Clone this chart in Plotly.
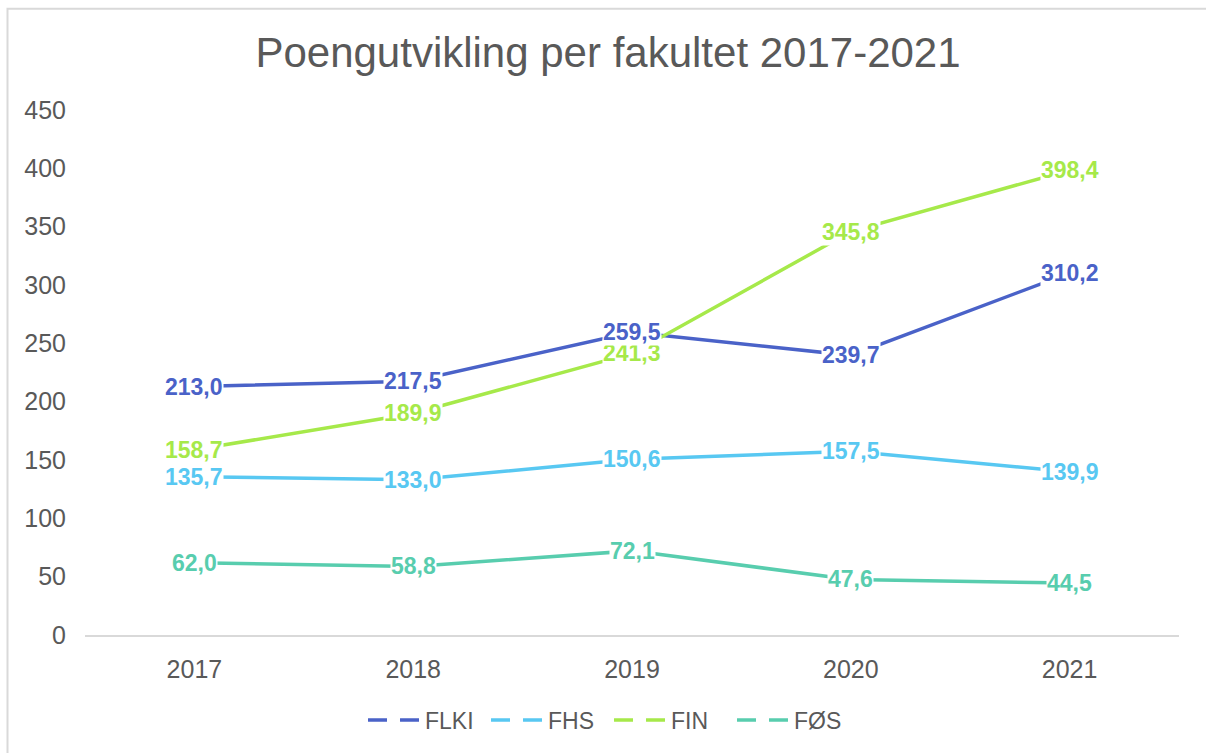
import plotly.graph_objects as go

years = ["2017", "2018", "2019", "2020", "2021"]
flki = [213.0, 217.5, 259.5, 239.7, 310.2]
fhs = [135.7, 133.0, 150.6, 157.5, 139.9]
fin = [158.7, 189.9, 241.3, 345.8, 398.4]
fos = [62.0, 58.8, 72.1, 47.6, 44.5]

series_names = ["FLKI", "FHS", "FIN", "FØS"]
series_values = [flki, fhs, fin, fos]
colors = ["#4A62C8", "#58C8F2", "#A6E94A", "#58CDAE"]

FONT = "Liberation Sans, Arial, sans-serif"


def fmt(v):
    return f"{v:.1f}".replace(".", ",")


fig = go.Figure()
for name, vals, col in zip(series_names, series_values, colors):
    fig.add_trace(go.Scatter(
        x=years, y=vals, name=name, mode="lines", showlegend=False,
        line=dict(color=col, width=3.5),
    ))
# legend entries (Excel-style broken line symbol)
for name, col in zip(series_names, colors):
    fig.add_trace(go.Scatter(
        x=[None], y=[None], name=name, mode="lines",
        line=dict(color=col, width=3.5, dash="19px,13px"),
    ))

# data labels; FLKI drawn last so its labels sit on top
label_order = [1, 2, 3, 0]
annotations = []
for k in label_order:
    vals, col = series_values[k], colors[k]
    for i, v in enumerate(vals):
        annotations.append(dict(
            x=i, y=v, xref="x", yref="y", text=fmt(v), showarrow=False,
            font=dict(family=FONT, size=23, color=col, weight="bold"),
            bgcolor="white", borderpad=0, xanchor="center", yanchor="middle",
        ))

fig.update_layout(
    width=1206, height=753,
    margin=dict(l=85, r=27, t=110, b=117),
    paper_bgcolor="white", plot_bgcolor="white",
    font=dict(family=FONT, color="#595959"),
    title=dict(text="Poengutvikling per fakultet 2017-2021", x=608 / 1206, xanchor="center",
               y=1 - 52 / 753, yanchor="middle",
               font=dict(size=42, color="#595959")),
    xaxis=dict(type="category", showgrid=False, showline=True, linecolor="#D9D9D9", linewidth=1.5,
               ticks="", tickfont=dict(size=25, color="#595959"), ticklabelstandoff=11,
               range=[-0.5, 4.5]),
    yaxis=dict(range=[0, 450], dtick=50, showgrid=False, zeroline=False, showline=False,
               tickfont=dict(size=25, color="#595959"), ticks="", ticklabelstandoff=18),
    showlegend=True,
    legend=dict(orientation="h", x=0.479, xanchor="center", y=-0.16, yanchor="middle",
                font=dict(size=23, color="#595959"), itemwidth=52, traceorder="normal",
                entrywidth=56, entrywidthmode="pixels"),
    annotations=annotations,
    shapes=[dict(type="rect", xref="paper", yref="paper", x0=-(85 - 7.5) / 1094, x1=1.5, y0=-1,
                 y1=(636 - 8.5) / 526,
                 line=dict(color="#D9D9D9", width=2), fillcolor="rgba(0,0,0,0)", layer="below")],
)

fig.write_html("out.html", config={"displayModeBar": False},
               post_script="document.body.style.margin='0';")
